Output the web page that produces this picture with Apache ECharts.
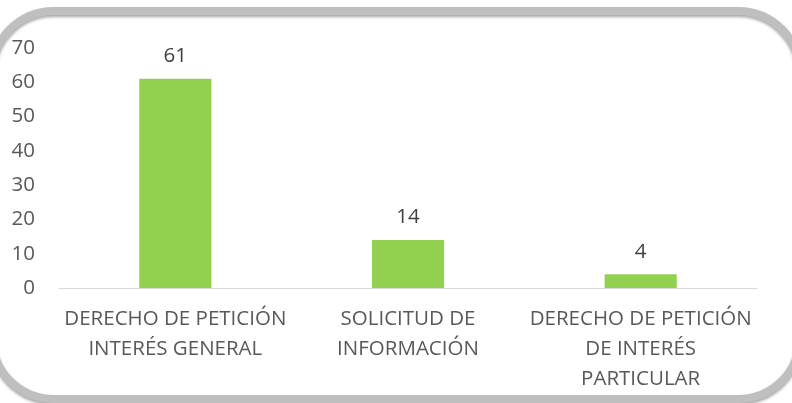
<!DOCTYPE html>
<html>
<head>
<meta charset="utf-8">
<script src="https://cdn.jsdelivr.net/npm/echarts@6/dist/echarts.min.js"></script>
<style>
html,body{margin:0;padding:0;background:#fff;}
#c{width:792px;height:403px;}
</style>
</head>
<body>
<div id="c"></div>
<script>
const categories = ['DERECHO DE PETICIÓN\nINTERÉS GENERAL', 'SOLICITUD DE\nINFORMACIÓN', 'DERECHO DE PETICIÓN\nDE INTERÉS\nPARTICULAR'];
const values = [61, 14, 4];
const yTicks = [0, 10, 20, 30, 40, 50, 60, 70];

const FONT = 'Open Sans';
const chart = echarts.init(document.getElementById('c'), null, {renderer: 'canvas'});
chart.setOption({
  backgroundColor: '#ffffff',
  animation: false,
  graphic: [{
    type: 'rect',
    shape: {x: -8, y: 11, width: 808, height: 388, r: 62},
    style: {fill: 'none', stroke: '#BFBFBF', lineWidth: 8,
      shadowColor: 'rgba(0,0,0,0.35)', shadowBlur: 3, shadowOffsetX: 0, shadowOffsetY: 2},
    z: -10
  }],
  grid: {left: 59, right: 35, top: 48, bottom: 115, containLabel: false},
  xAxis: {
    type: 'category',
    data: categories,
    axisLine: {show: true, lineStyle: {color: '#D9D9D9', width: 1}},
    axisTick: {show: false},
    axisLabel: {color: '#595959', fontFamily: FONT, fontSize: 20.5, lineHeight: 30, margin: 16, interval: 0}
  },
  yAxis: {
    type: 'value',
    min: yTicks[0],
    max: yTicks[yTicks.length - 1],
    interval: 10,
    splitLine: {show: false},
    axisLine: {show: false},
    axisTick: {show: false},
    axisLabel: {color: '#595959', fontFamily: FONT, fontSize: 20.5, margin: 24}
  },
  series: [{
    type: 'bar',
    data: values,
    barWidth: '31%',
    itemStyle: {color: '#92D050'},
    label: {show: true, position: 'top', distance: 12, color: '#404040', fontFamily: FONT, fontSize: 20.5}
  }]
});
</script>
</body>
</html>
